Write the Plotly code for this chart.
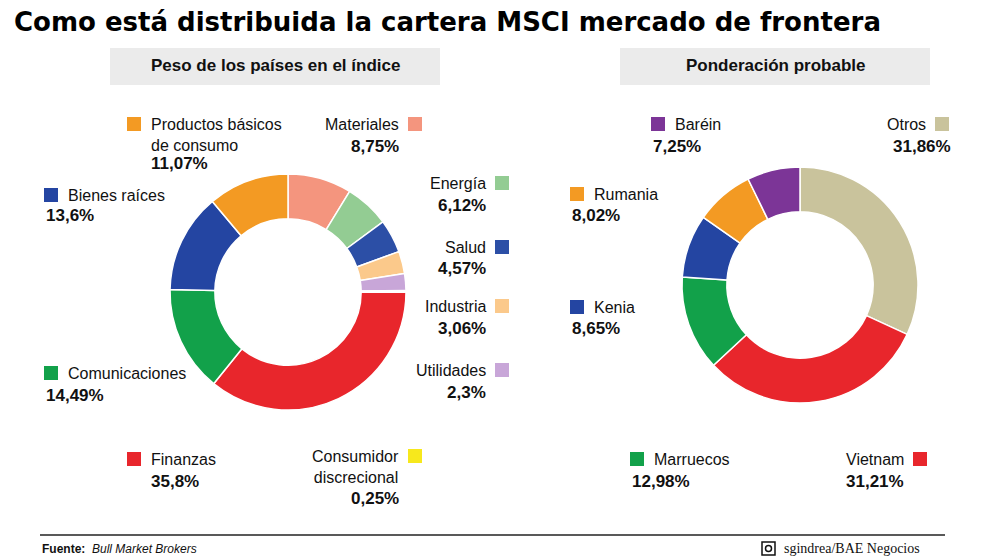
import plotly.graph_objects as go

W, H = 992, 558
OFF = 8  # page body margin
def px(x): return (x - OFF) / W
def py(y): return 1 - (y - OFF) / H

left_labels = ["Materiales", "Energía", "Salud", "Industria", "Utilidades", "Consumidor discrecional",
               "Finanzas", "Comunicaciones", "Bienes raíces", "Productos básicos de consumo"]
left_values = [8.75, 6.12, 4.57, 3.06, 2.3, 0.25, 35.8, 14.49, 13.6, 11.07]
left_text = ["8,75%", "6,12%", "4,57%", "3,06%", "2,3%", "0,25%", "35,8%", "14,49%", "13,6%", "11,07%"]
left_colors = ["#f4957e", "#93cc93", "#2c4fa6", "#fbc98b", "#c8a6d8", "#f7e81c",
               "#e8262c", "#12a14a", "#2445a2", "#f39a23"]

right_labels = ["Otros", "Vietnam", "Marruecos", "Kenia", "Rumania", "Baréin"]
right_values = [31.86, 31.21, 12.98, 8.65, 8.02, 7.25]
right_text = ["31,86%", "31,21%", "12,98%", "8,65%", "8,02%", "7,25%"]
right_colors = ["#c9c39c", "#e8262c", "#12a14a", "#2445a2", "#f39a23", "#7c3597"]

fig = go.Figure()
for labels, values, colors, dx, dy in [
    (left_labels, left_values, left_colors, (170, 406), (174, 410)),
    (right_labels, right_values, right_colors, (682, 918), (167, 403)),
]:
    fig.add_trace(go.Pie(labels=labels, values=values, sort=False, direction="clockwise",
                         rotation=0, hole=0.62, textinfo="none", showlegend=False,
                         marker=dict(colors=colors, line=dict(color="white", width=1.5)),
                         domain=dict(x=[px(dx[0]), px(dx[1])], y=[py(dy[1]), py(dy[0])])))

ann = []
shapes = []
FONT = "Liberation Sans, Arial, sans-serif"

def label(side, name, val, color, sqx, sqy, tx, pct_x, pct_y, pct_anchor):
    shapes.append(dict(type="rect", xref="paper", yref="paper", x0=px(sqx), x1=px(sqx + 14),
                       y0=py(sqy + 14), y1=py(sqy), fillcolor=color, line=dict(width=0)))
    anchor = "left" if side == "L" else "right"
    ann.append(dict(x=px(tx), y=py(sqy - 3), xref="paper", yref="paper", text=name,
                    xanchor=anchor, yanchor="top", align=anchor, showarrow=False,
                    font=dict(family=FONT, size=16, color="#111")))
    ann.append(dict(x=px(pct_x), y=py(pct_y), xref="paper", yref="paper", text="<b>%s</b>" % val,
                    xanchor=pct_anchor, yanchor="middle", showarrow=False,
                    font=dict(family=FONT, size=17, color="#111")))

L = dict(zip(left_labels, zip(left_text, left_colors)))
R = dict(zip(right_labels, zip(right_text, right_colors)))
def lab(d, key, name, *a):
    label(a[0], name, d[key][0], d[key][1], *a[1:])

lab(L, "Productos básicos de consumo", "Productos básicos<br>de consumo", "L", 127, 117, 149, 149, 163, "left")
lab(L, "Materiales", "Materiales", "R", 408, 117, 401, 401, 146, "right")
lab(L, "Bienes raíces", "Bienes raíces", "L", 44, 188, 66, 44, 215, "left")
lab(L, "Energía", "Energía", "R", 495, 176, 488, 488, 205, "right")
lab(L, "Salud", "Salud", "R", 495, 240, 488, 488, 268, "right")
lab(L, "Industria", "Industria", "R", 495, 299, 488, 488, 328, "right")
lab(L, "Utilidades", "Utilidades", "R", 495, 363, 488, 488, 392, "right")
lab(L, "Comunicaciones", "Comunicaciones", "L", 44, 366, 66, 44, 395, "left")
lab(L, "Finanzas", "Finanzas", "L", 127, 452, 149, 149, 481, "left")
lab(L, "Consumidor discrecional", "Consumidor<br>discrecional", "R", 408, 449, 401, 401, 498, "right")

lab(R, "Baréin", "Baréin", "L", 651, 117, 673, 651, 146, "left")
lab(R, "Otros", "Otros", "R", 935, 117, 928, 953, 146, "right")
lab(R, "Rumania", "Rumania", "L", 570, 187, 592, 570, 215, "left")
lab(R, "Kenia", "Kenia", "L", 570, 300, 592, 570, 328, "left")
lab(R, "Marruecos", "Marruecos", "L", 630, 452, 652, 630, 481, "left")
lab(R, "Vietnam", "Vietnam", "R", 913, 452, 906, 906, 481, "right")

for x0, x1, t in [(110, 440, "Peso de los países en el índice"), (620, 930, "Ponderación probable")]:
    shapes.append(dict(type="rect", xref="paper", yref="paper", x0=px(x0), x1=px(x1),
                       y0=py(85), y1=py(48), fillcolor="#ebebeb", line=dict(width=0), layer="below"))
    ann.append(dict(x=px((x0 + x1) / 2), y=py(66), xref="paper", yref="paper", text="<b>%s</b>" % t,
                    xanchor="center", yanchor="middle",
                    showarrow=False, font=dict(family=FONT, size=17, color="#111")))

ann.append(dict(x=px(12), y=py(22), xref="paper", yref="paper",
                text="<b>Como está distribuida la cartera MSCI mercado de frontera</b>",
                xanchor="left", yanchor="middle", showarrow=False,
                font=dict(family="DejaVu Sans, sans-serif", size=26, color="#000")))
shapes.append(dict(type="line", xref="paper", yref="paper", x0=px(40), x1=px(945),
                   y0=py(535), y1=py(535), line=dict(color="#222", width=1.5)))
ann.append(dict(x=px(40), y=py(549), xref="paper", yref="paper",
                text="<b>Fuente:</b>  <i>Bull Market Brokers</i>", xanchor="left", yanchor="middle", showarrow=False,
                font=dict(family=FONT, size=12, color="#111")))
shapes.append(dict(type="rect", xref="paper", yref="paper", x0=px(762), x1=px(775), y0=py(555), y1=py(542),
                   line=dict(color="#111", width=1.5)))
shapes.append(dict(type="circle", xref="paper", yref="paper", x0=px(765.5), x1=px(771.5), y0=py(551.5), y1=py(545.5),
                   line=dict(color="#111", width=1.5)))
ann.append(dict(x=px(782), y=py(548), xref="paper", yref="paper", text="sgindrea/BAE Negocios",
                xanchor="left", yanchor="middle", showarrow=False,
                font=dict(family="Liberation Serif, serif", size=14, color="#111")))

fig.update_layout(width=W, height=H, margin=dict(l=0, r=0, t=0, b=0), paper_bgcolor="white",
                  annotations=ann, shapes=shapes)
fig.write_html("out.html")
